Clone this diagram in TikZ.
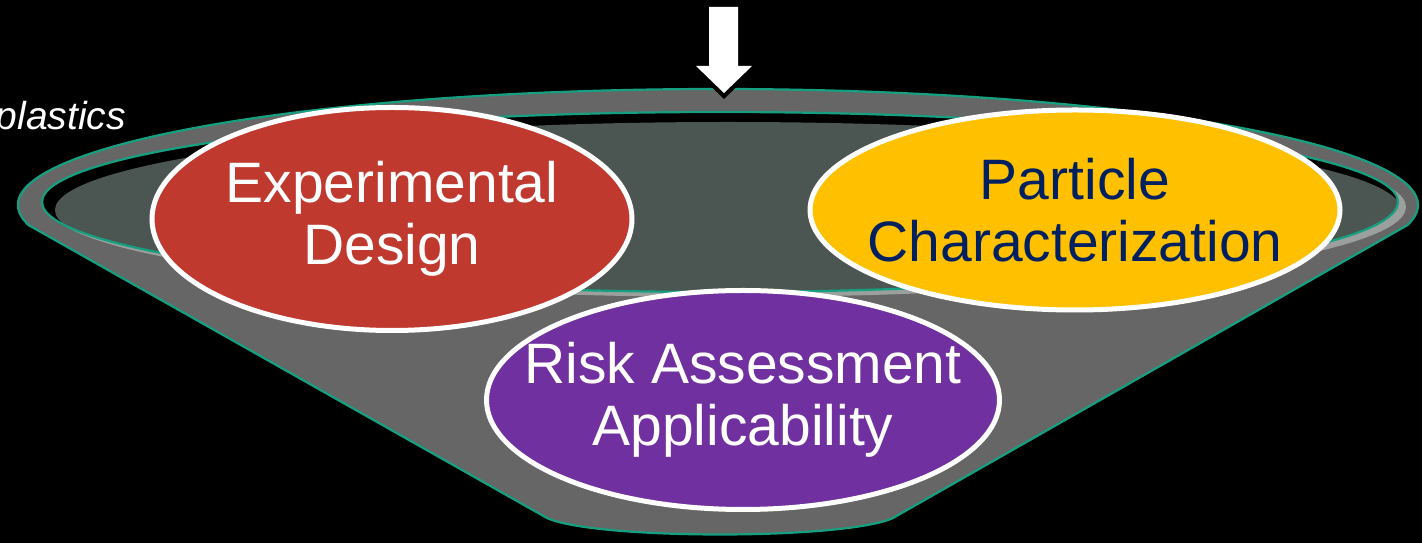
\documentclass[tikz,border=0pt]{standalone}
\usepackage{fontspec}
\setmainfont{Liberation Sans}
\usetikzlibrary{shapes.geometric}
\definecolor{rimgray}{RGB}{102,102,102}
\definecolor{innerdark}{RGB}{75,85,82}
\definecolor{striplight}{RGB}{155,159,157}
\definecolor{rimteal}{RGB}{22,160,130}
\definecolor{bubred}{RGB}{192,57,46}
\definecolor{bubyellow}{RGB}{255,192,0}
\definecolor{bubpurple}{RGB}{112,48,160}
\definecolor{navytext}{RGB}{0,32,96}
\tikzset{
  bubble/.style={ellipse, draw=white, line width=5pt, inner sep=0pt},
  bubtext/.style={align=center, font=\fontsize{57}{62}\selectfont},
  tealline/.style={draw=rimteal, line width=2.2pt, line join=round},
}
\begin{document}
\begin{tikzpicture}[x=1pt,y=1pt]
  % page and background
  \fill[black] (0,0) rectangle (1422,543);
  \useasboundingbox (0,0) rectangle (1422,543);
  \clip (0,0) rectangle (1422,543);

  % funnel body with its outer rim
  \path[fill=rimgray, tealline] (718,338) ++(190:700 and 116)
    arc[start angle=190, end angle=-10, x radius=700, y radius=116]
    -- (893,25) .. controls (845,3) and (595,3) .. (547,25) -- cycle;

  % light lip under the opening
  \fill[striplight] (728,336) ellipse[x radius=678, y radius=90];
  % opening: dark shadow and inner surface
  \fill[black] (720,341) ellipse[x radius=678, y radius=90];
  \begin{scope}
    \clip (720,341) ellipse[x radius=678, y radius=90];
    \fill[innerdark] (728,333) ellipse[x radius=673, y radius=88];
  \end{scope}
  \draw[tealline] (720,341) ellipse[x radius=678, y radius=90];

  % input arrow (shadow then white)
  \fill[black] (709,530) -- (738,530) -- (738,471) -- (752,471) -- (724,444)
    -- (696,471) -- (709,471) -- cycle;
  \fill[white] (709,536) -- (738,536) -- (738,477) -- (752,477) -- (724,450)
    -- (696,477) -- (709,477) -- cycle;

  % side caption, running off the left edge
  \node[anchor=base east, inner sep=0pt, text=white,
        font=\itshape\fontsize{39}{42}\selectfont] (caption) at (126,413) {plastics};

  % the three bubbles
  \node[bubble, fill=bubred, minimum width=480, minimum height=223] (exp) at (392,324) {};
  \node[bubble, fill=bubyellow, minimum width=530, minimum height=200] (part) at (1075,333) {};
  \node[bubble, fill=bubpurple, minimum width=513, minimum height=219] (risk) at (743,143) {};

  \node[bubtext, text=white] (exptxt) at (exp.center) {Experimental\\Design};
  \node[bubtext, text=navytext] (parttxt) at (part.center) {Particle\\Characterization};
  \node[bubtext, text=white] (risktxt) at (risk.center) {Risk Assessment\\Applicability};
\end{tikzpicture}
\end{document}
